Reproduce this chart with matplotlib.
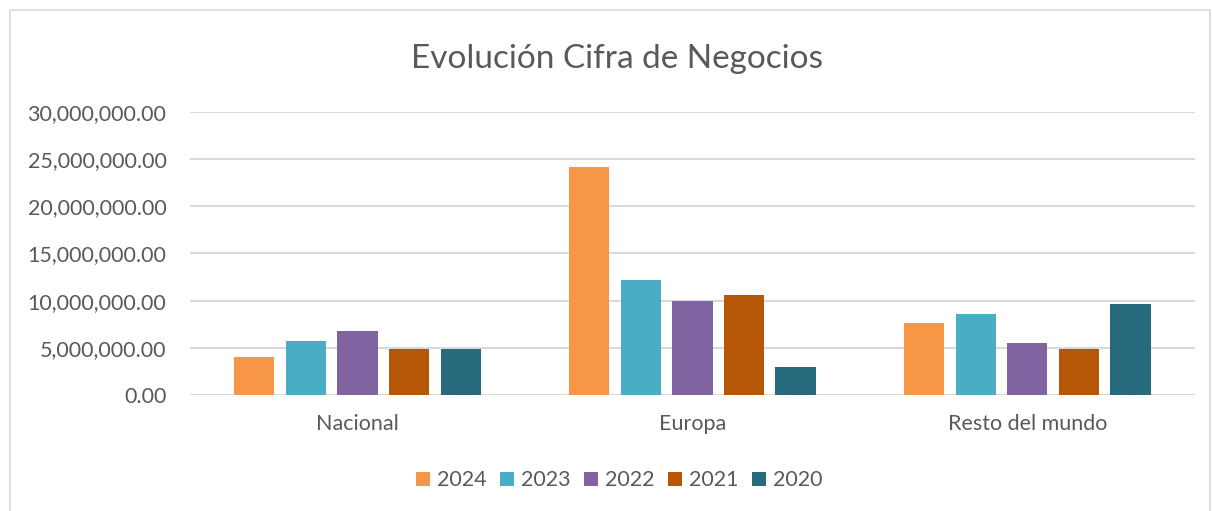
import numpy as np
import matplotlib
matplotlib.use("Agg")
import matplotlib.pyplot as plt
from matplotlib.patches import Rectangle
from matplotlib.ticker import FuncFormatter

regions = ["Nacional", "Europa", "Resto del mundo"]
years = ["2024", "2023", "2022", "2021", "2020"]
v2024 = [4030000, 24130000, 7680000]
v2023 = [5760000, 12190000, 8570000]
v2022 = [6820000, 10000000, 5550000]
v2021 = [4880000, 10600000, 4860000]
v2020 = [4910000, 2930000, 9630000]
colors = ["#F79646", "#4BACC6", "#8064A2", "#B65708", "#276A7C"]

plt.rcParams['font.family'] = ['Lato', 'DejaVu Sans']

fig = plt.figure(figsize=(12.12, 5.11), dpi=100)
ax = fig.add_axes([0.1568, 0.227, 0.829, 0.554])

# outer chart border
fig.patches.append(Rectangle((0.008, -0.01), 0.99, 0.99, transform=fig.transFigure,
                             fill=False, edgecolor="#D9D9D9", linewidth=1.2))

x = np.arange(len(regions))
step = 0.154
width = 0.12
series = [v2024, v2023, v2022, v2021, v2020]
for i, (vals, c, yr) in enumerate(zip(series, colors, years)):
    ax.bar(x + (i - 2) * step, vals, width=width, color=c, label=yr, zorder=3)

ax.set_xlim(-0.5, 2.5)
ax.set_ylim(0, 30000000)
ax.set_yticks(np.arange(0, 30000001, 5000000))
ax.yaxis.set_major_formatter(FuncFormatter(lambda v, p: f"{v:,.2f}"))
ax.set_xticks(x)
ax.set_xticklabels(regions)
ax.tick_params(length=0, labelsize=15.5, colors="#595959")
ax.tick_params(axis="y", pad=17)
ax.tick_params(axis="x", pad=14)
ax.grid(axis="y", color="#D9D9D9", linewidth=1.5, zorder=0)
for s in ax.spines.values():
    s.set_visible(False)

fig.text(0.509, 0.885, "Evolución Cifra de Negocios", ha="center", va="center",
         fontsize=24, color="#595959")

fig.legend(loc="center", bbox_to_anchor=(0.511, 0.06), ncol=5, frameon=False,
           fontsize=15.5, labelcolor="#595959", handlelength=0.65, handleheight=0.65,
           handletextpad=0.35, columnspacing=0.6)

fig.savefig("out.png", dpi=100)
